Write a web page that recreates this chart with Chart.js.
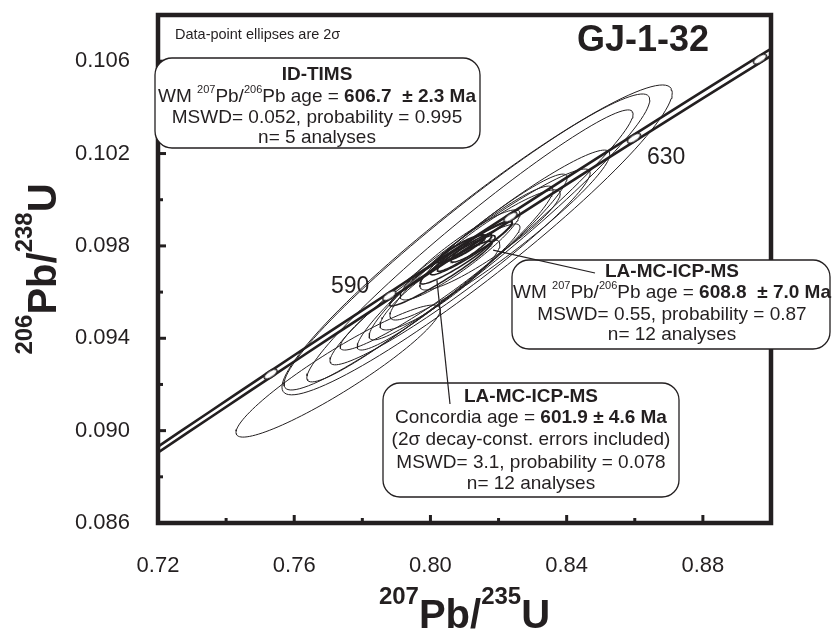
<!DOCTYPE html>
<html lang="en">
<head>
<meta charset="UTF-8">
<title>GJ-1-32 concordia</title>
<script src="https://cdn.jsdelivr.net/npm/chart.js"></script>
<style>
  html, body { margin: 0; padding: 0; background: #fff; }
  #wrap { width: 832px; height: 636px; }
</style>
</head>
<body>
<div id="wrap"><canvas id="grafico"></canvas></div>
<script>
// LA-MC-ICP-MS analyses (207Pb/235U, 2s, 206Pb/238U, 2s, rho)
const laX   = [0.8137, 0.8107, 0.8116, 0.7729, 0.8093, 0.8090, 0.8087, 0.8204, 0.8087, 0.7999, 0.8175, 0.8028]
const laSX  = [0.0573, 0.0537, 0.0479, 0.0300, 0.0308, 0.0270, 0.0382, 0.0323, 0.0176, 0.0264, 0.0206, 0.0176]
const laY   = [0.09826, 0.09817, 0.09800, 0.09258, 0.09730, 0.09726, 0.09709, 0.09847, 0.09761, 0.09622, 0.09826, 0.09631]
const laSY  = [0.00671, 0.00641, 0.00589, 0.00286, 0.00381, 0.00333, 0.00424, 0.00368, 0.00195, 0.00273, 0.00217, 0.00195]
const laRho = [0.95, 0.96, 0.97, 0.93, 0.96, 0.95, 0.96, 0.95, 0.92, 0.95, 0.92, 0.90]

// ID-TIMS analyses
const timsX   = [0.8030, 0.8080, 0.8120, 0.8150, 0.8100]
const timsSX  = [0.0150, 0.0110, 0.0120, 0.0090, 0.0080]
const timsY   = [0.09680, 0.09740, 0.09790, 0.09820, 0.09770]
const timsSY  = [0.00140, 0.00105, 0.00115, 0.00090, 0.00080]
const timsRho = [0.96, 0.94, 0.95, 0.93, 0.94]

// concordia age ellipse (601.9 Ma)
const concAgeX = 0.80905, concAgeSX = 0.0070
const concAgeY = 0.09787, concAgeSY = 0.00060
const concAgeRho = 0.90

// concordia curve and age marks (Ma)
const curveAges  = [540, 550, 560, 570, 580, 590, 600, 610, 620, 630, 640, 650, 660]
const markAges   = [570, 590, 610, 630, 650]
const markLabels = ['', '590', '', '630', '']

const xTicks = [0.72, 0.76, 0.80, 0.84, 0.88]
const yTicks = [0.086, 0.090, 0.094, 0.098, 0.102, 0.106]

const L238 = 1.55125e-10, L235 = 9.8485e-10, dL235 = 0.0014
const INK = '#231f20'
const FONT = '"Liberation Sans", Arial, sans-serif'

function concordia(t, f) {
  return { x: Math.exp(L235 * (1 + f) * t * 1e6) - 1, y: Math.exp(L238 * t * 1e6) - 1 }
}

function ellipse(cx, sx, cy, sy, rho) {
  const pts = []
  const k = Math.sqrt(1 - rho * rho)
  for (let i = 0; i <= 120; i++) {
    const a = i / 120 * 2 * Math.PI
    pts.push({ x: cx + sx * Math.cos(a), y: cy + sy * (rho * Math.cos(a) + k * Math.sin(a)) })
  }
  return pts
}

// little white ellipse for the age marks
const markImg = document.createElement('canvas')
markImg.width = 18; markImg.height = 10
{
  const c = markImg.getContext('2d')
  c.beginPath(); c.ellipse(9, 5, 7.5, 3.3, 0, 0, 2 * Math.PI)
  c.fillStyle = '#fff'; c.fill()
  c.strokeStyle = INK; c.lineWidth = 1.4; c.stroke()
}

const datasets = []
datasets.push({
  data: markAges.map(t => concordia(t, 0)),
  pointStyle: markImg, rotation: -33, pointRadius: 6, showLine: false, order: 0
})
;[-dL235, dL235].forEach(f => datasets.push({
  data: curveAges.map(t => concordia(t, f)),
  showLine: true, borderColor: INK, borderWidth: 2.6, pointRadius: 0, tension: 0.4, order: 1
}))
datasets.push({
  data: ellipse(concAgeX, concAgeSX, concAgeY, concAgeSY, concAgeRho),
  showLine: true, borderColor: INK, borderWidth: 2.2, pointRadius: 0, order: 2
})
timsX.forEach((v, i) => datasets.push({
  data: ellipse(v, timsSX[i], timsY[i], timsSY[i], timsRho[i]),
  showLine: true, borderColor: INK, borderWidth: 1.5, pointRadius: 0, order: 3
}))
laX.forEach((v, i) => datasets.push({
  data: ellipse(v, laSX[i], laY[i], laSY[i], laRho[i]),
  showLine: true, borderColor: INK, borderWidth: 1, pointRadius: 0, order: 4
}))

// text boxes (canvas pixels)
const notes = [
  { box: [155, 58, 480, 148], cx: 317, rows: [
    [75, [['ID-TIMS', 'b']]],
    [97, [['WM '], ['207', 's'], ['Pb/'], ['206', 's'], ['Pb age = '], ['606.7  \u00b1 2.3 Ma', 'b']]],
    [118, [['MSWD= 0.052, probability = 0.995']]],
    [138, [['n= 5 analyses']]]
  ]},
  { box: [512, 260, 830, 349], cx: 672, rows: [
    [272, [['LA-MC-ICP-MS', 'b']]],
    [293, [['WM '], ['207', 's'], ['Pb/'], ['206', 's'], ['Pb age = '], ['608.8  \u00b1 7.0 Ma', 'b']]],
    [315, [['MSWD= 0.55, probability = 0.87']]],
    [335, [['n= 12 analyses']]]
  ]},
  { box: [383, 383, 679, 497], cx: 531, rows: [
    [397, [['LA-MC-ICP-MS', 'b']]],
    [418, [['Concordia age = '], ['601.9 \u00b1 4.6 Ma', 'b']]],
    [440, [['(2\u03c3 decay-const. errors included)']]],
    [463, [['MSWD= 3.1, probability = 0.078']]],
    [484, [['n= 12 analyses']]]
  ]}
]
// leader lines: from box (pixels) to ellipse (data)
const leaders = [
  { from: [450, 404], to: [0.8019, 0.09652] },
  { from: [595, 273], to: [0.8184, 0.09782] }
]

function runFont(r, size) {
  const sup = r[1] === 's'
  return (r[1] === 'b' ? 'bold ' : '') + (sup ? Math.round(size * 0.58) : size) + 'px ' + FONT
}
function drawRuns(ctx, runs, cx, y, size) {
  let w = 0
  runs.forEach(r => { ctx.font = runFont(r, size); w += ctx.measureText(r[0]).width })
  let x = cx - w / 2
  runs.forEach(r => {
    ctx.font = runFont(r, size)
    ctx.fillText(r[0], x, r[1] === 's' ? y - size * 0.36 : y)
    x += ctx.measureText(r[0]).width
  })
}
function roundBox(ctx, x0, y0, x1, y1, r) {
  ctx.beginPath()
  ctx.moveTo(x0 + r, y0)
  ctx.arcTo(x1, y0, x1, y1, r); ctx.arcTo(x1, y1, x0, y1, r)
  ctx.arcTo(x0, y1, x0, y0, r); ctx.arcTo(x0, y0, x1, y0, r)
  ctx.closePath()
}

const frame = {
  id: 'frame',
  afterDatasetsDraw(chart) {
    const { ctx, chartArea: a, scales: { x, y } } = chart
    ctx.save()
    ctx.strokeStyle = INK
    ctx.lineWidth = 3
    x.ticks.forEach((t, i) => {
      const px = x.getPixelForValue(t.value)
      ctx.beginPath(); ctx.moveTo(px, a.bottom); ctx.lineTo(px, a.bottom - (i % 2 ? 5 : 8)); ctx.stroke()
    })
    y.ticks.forEach((t, i) => {
      const py = y.getPixelForValue(t.value)
      ctx.beginPath(); ctx.moveTo(a.left, py); ctx.lineTo(a.left + (i % 2 ? 5 : 8), py); ctx.stroke()
    })
    ctx.lineWidth = 4.5
    ctx.strokeRect(a.left, a.top, a.right - a.left, a.bottom - a.top)
    ctx.restore()
  },
  afterDraw(chart) {
    const { ctx, chartArea: a, scales: { x, y } } = chart
    ctx.save()
    ctx.fillStyle = INK
    ctx.textBaseline = 'middle'

    // age labels on the concordia
    ctx.font = '23px ' + FONT
    markAges.forEach((t, i) => {
      if (!markLabels[i]) return
      const p = concordia(t, 0)
      const px = x.getPixelForValue(p.x), py = y.getPixelForValue(p.y)
      if (t < 600) { ctx.textAlign = 'right'; ctx.fillText(markLabels[i], px - 20, py - 9) }
      else { ctx.textAlign = 'left'; ctx.fillText(markLabels[i], px + 13, py + 19) }
    })

    ctx.textAlign = 'left'
    ctx.font = '14.5px ' + FONT
    ctx.fillText('Data-point ellipses are 2\u03c3', a.left + 17, 35)
    ctx.textAlign = 'center'
    ctx.font = 'bold 36px ' + FONT
    ctx.fillText('GJ-1-32', 643, 41)

    // boxes
    ctx.textAlign = 'left'
    notes.forEach(n => {
      const [x0, y0, x1, y1] = n.box
      roundBox(ctx, x0, y0, x1, y1, 17)
      ctx.fillStyle = '#fff'; ctx.fill()
      ctx.strokeStyle = INK; ctx.lineWidth = 1.3; ctx.stroke()
      ctx.fillStyle = INK
      n.rows.forEach(r => drawRuns(ctx, r[1], n.cx, r[0], 19))
    })
    ctx.lineWidth = 1.2
    leaders.forEach(l => {
      ctx.beginPath()
      ctx.moveTo(l.from[0], l.from[1])
      ctx.lineTo(x.getPixelForValue(l.to[0]), y.getPixelForValue(l.to[1]))
      ctx.stroke()
    })

    // axis titles
    ctx.textBaseline = 'alphabetic'
    const drawTitle = (sup1, sup2, cx, base) => {
      const parts = [[sup1, 1], ['Pb/', 0], [sup2, 1], ['U', 0]]
      let w = 0
      parts.forEach(p => { ctx.font = 'bold ' + (p[1] ? 24 : 40) + 'px ' + FONT; w += ctx.measureText(p[0]).width })
      let px = cx - w / 2
      parts.forEach(p => {
        ctx.font = 'bold ' + (p[1] ? 24 : 40) + 'px ' + FONT
        ctx.fillText(p[0], px, p[1] ? base - 24 : base)
        px += ctx.measureText(p[0]).width
      })
    }
    drawTitle('207', '235', (a.left + a.right) / 2, 628)
    ctx.translate(56, (a.top + a.bottom) / 2)
    ctx.rotate(-Math.PI / 2)
    drawTitle('206', '238', 0, 0)
    ctx.restore()
  }
}

new Chart(document.getElementById('grafico'), {
  type: 'scatter',
  data: { datasets },
  options: {
    responsive: true,
    maintainAspectRatio: false,
    animation: false,
    layout: { padding: { top: 15, right: 61, left: 0, bottom: 0 } },
    plugins: { legend: { display: false }, tooltip: { enabled: false } },
    scales: {
      x: {
        type: 'linear', min: 0.72, max: 0.90,
        grid: { display: false }, border: { display: false },
        afterFit: s => { s.height = 113; s.paddingLeft = 0; s.paddingRight = 0 },
        ticks: {
          stepSize: 0.02, autoSkip: false, maxRotation: 0, padding: 22, color: INK,
          font: { family: FONT, size: 22 },
          callback: (v, i) => { const t = xTicks.find(q => Math.abs(q - v) < 1e-6); return t ? t.toFixed(2) : '' }
        }
      },
      y: {
        type: 'linear', min: 0.086, max: 0.108,
        grid: { display: false }, border: { display: false },
        afterFit: s => { s.width = 158; s.paddingTop = 0; s.paddingBottom = 0 },
        ticks: {
          stepSize: 0.002, autoSkip: false, padding: 20, color: INK,
          font: { family: FONT, size: 22 },
          callback: (v, i) => { const t = yTicks.find(q => Math.abs(q - v) < 1e-7); return t ? t.toFixed(3) : '' }
        }
      }
    }
  },
  plugins: [frame]
})
</script>
</body>
</html>
